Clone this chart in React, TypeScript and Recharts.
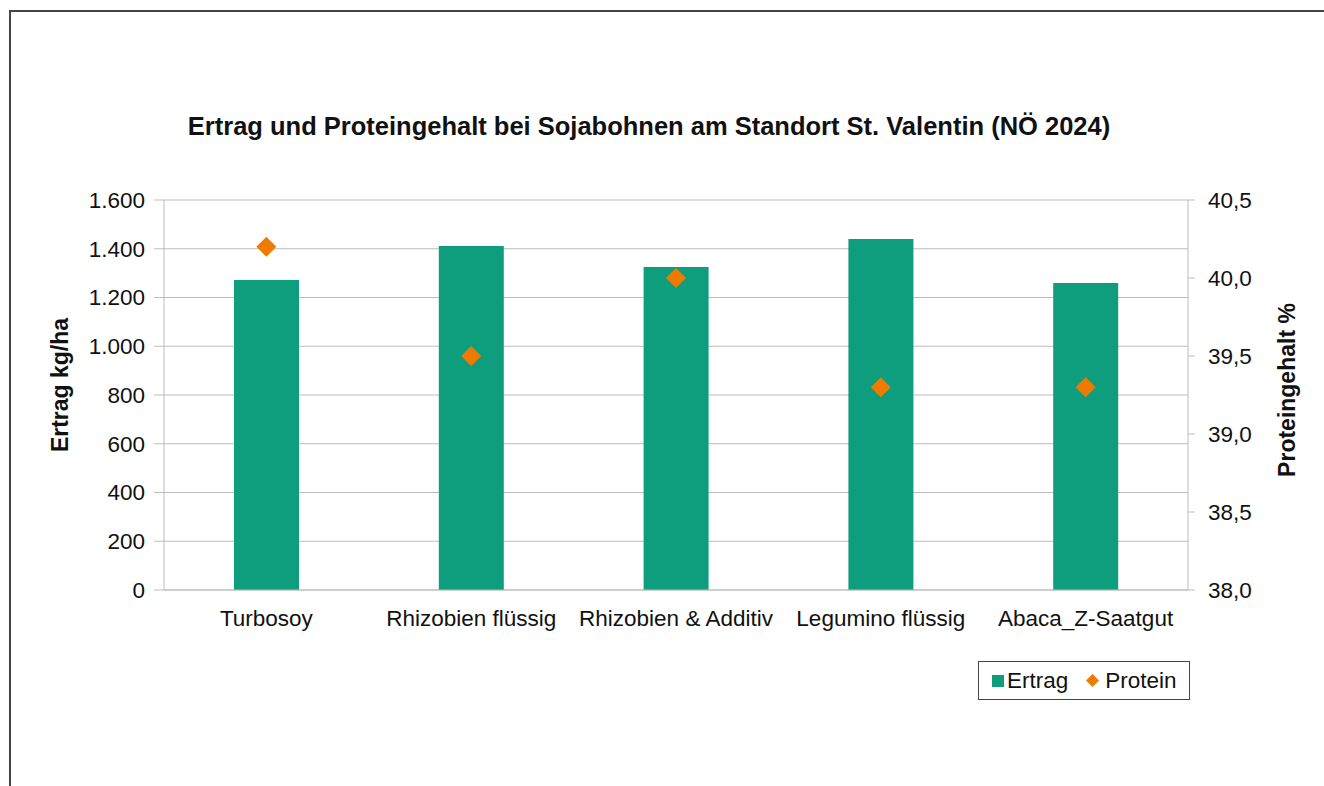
import React from "react"
import { ComposedChart, Bar, Scatter, XAxis, YAxis, CartesianGrid } from "recharts"

const categories = ["Turbosoy", "Rhizobien flüssig", "Rhizobien & Additiv", "Legumino flüssig", "Abaca_Z-Saatgut"]
const ertrag = [1272, 1411, 1325, 1440, 1259]
const protein = [40.2, 39.5, 40.0, 39.3, 39.3]
const ertragTicks = [0, 200, 400, 600, 800, 1000, 1200, 1400, 1600]
const proteinTicks = [38, 38.5, 39, 39.5, 40, 40.5]

const GREEN = "#0f9e7d"
const ORANGE = "#ef7a00"
const GRID = "#bdbdbd"
const FONT = "'Liberation Sans', Arial, Helvetica, sans-serif"

const data = categories.map((name, i) => ({ name, ertrag: ertrag[i], protein: protein[i] }))

const Diamond = (props: any) => {
  const { cx, cy } = props
  const r = 10
  return <polygon points={`${cx},${cy - r} ${cx + r},${cy} ${cx},${cy + r} ${cx - r},${cy}`} fill={ORANGE} />
}

export default function App() {
  const tickStyle = { fill: "#111", fontSize: 22.5, fontFamily: FONT }
  return (
    <div style={{ position: "absolute", left: 0, top: 0, width: 1324, height: 786, background: "#fff", overflow: "hidden" }}>
      <div style={{ position: "absolute", left: 9, top: 10, width: 1400, height: 900, borderLeft: "2px solid #444", borderTop: "2px solid #444" }} />
      <div style={{ position: "absolute", left: 0, top: 112, width: 1298, textAlign: "center", fontFamily: FONT, fontWeight: "bold", fontSize: 25.5, color: "#111" }}>
        Ertrag und Proteingehalt bei Sojabohnen am Standort St. Valentin (NÖ 2024)
      </div>
      <div style={{ position: "absolute", left: 0, top: 0 }}>
        <ComposedChart width={1324} height={786} data={data} margin={{ top: 200, right: 56, bottom: 156, left: 84 }}>
          <CartesianGrid yAxisId="left" vertical={false} stroke={GRID} />
          <XAxis dataKey="name" stroke={GRID} tickLine={false} height={40} tick={tickStyle} tickMargin={14} interval={0} />
          <YAxis
            yAxisId="left"
            width={80}
            domain={[0, 1600]}
            ticks={ertragTicks}
            stroke={GRID}
            tickSize={10}
            tickMargin={9}
            tick={tickStyle}
            tickFormatter={(v: number) => v.toLocaleString("de-DE")}
            label={{
              content: () => (
                <text x={62} y={385} transform="rotate(-90 62 385)" textAnchor="middle" dominantBaseline="middle" fontFamily={FONT} fontWeight="bold" fontSize={23} fill="#111">
                  Ertrag kg/ha
                </text>
              ),
            }}
          />
          <YAxis
            yAxisId="right"
            orientation="right"
            width={80}
            domain={[38, 40.5]}
            ticks={proteinTicks}
            stroke={GRID}
            tickSize={7}
            tickMargin={13}
            tick={tickStyle}
            tickFormatter={(v: number) => v.toFixed(1).replace(".", ",")}
            label={{
              content: () => (
                <text x={1289} y={390} transform="rotate(-90 1289 390)" textAnchor="middle" dominantBaseline="middle" fontFamily={FONT} fontWeight="bold" fontSize={23} fill="#111">
                  Proteingehalt %
                </text>
              ),
            }}
          />
          <Bar yAxisId="left" dataKey="ertrag" fill={GREEN} barSize={65} isAnimationActive={false} />
          <Scatter yAxisId="right" dataKey="protein" fill={ORANGE} shape={Diamond} isAnimationActive={false} />
        </ComposedChart>
      </div>
      <div style={{ position: "absolute", left: 978, top: 661, width: 210, height: 37, border: "1px solid #444", display: "flex", alignItems: "center", fontFamily: FONT, fontSize: 22.5, color: "#111" }}>
        <span style={{ width: 12, height: 12, background: GREEN, marginLeft: 13, marginRight: 3 }} />
        <span>Ertrag</span>
        <svg width={15} height={15} style={{ marginLeft: 17, marginRight: 5 }}>
          <polygon points="7.5,1 14,7.5 7.5,14 1,7.5" fill={ORANGE} />
        </svg>
        <span>Protein</span>
      </div>
    </div>
  )
}
